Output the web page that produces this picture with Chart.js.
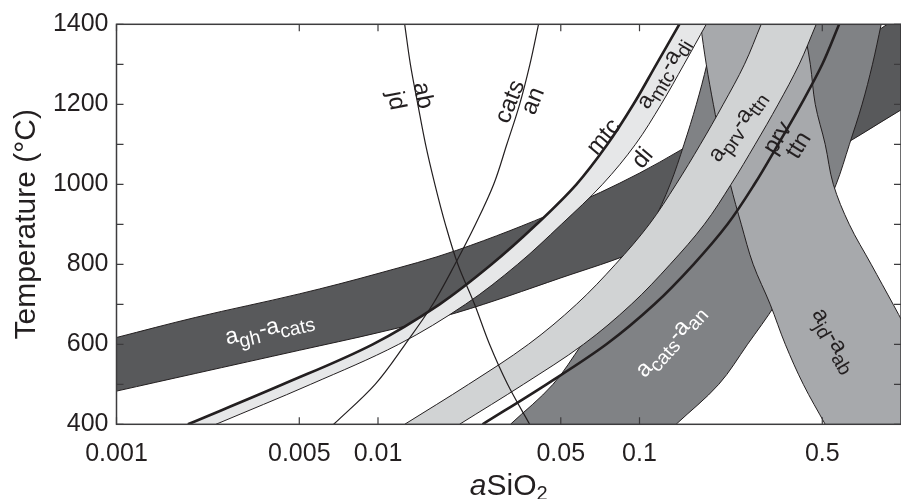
<!DOCTYPE html>
<html>
<head>
<meta charset="utf-8">
<script src="https://cdn.jsdelivr.net/npm/chart.js@4.4.1/dist/chart.umd.min.js"></script>
<style>
  html, body { margin: 0; padding: 0; background: #ffffff; overflow: hidden; }
  #wrap { width: 901px; height: 499px; }
</style>
</head>
<body>
<div id="wrap"><canvas id="c" width="901" height="499"></canvas></div>
<script>
// Temperature levels (°C) at which the reaction curves are given
const tempLevels = [400, 500, 600, 700, 800, 900, 1000, 1100, 1200, 1300, 1400];

// Pure end-member reaction lines (aSiO2 at each temperature level)
const jdAbLine   = [0.0380, 0.0313, 0.0267, 0.0234, 0.0202, 0.0181, 0.0165, 0.0152, 0.0142, 0.0133, 0.01265];
const catsAnLine = [0.00677, 0.00975, 0.0127, 0.0162, 0.0197, 0.0236, 0.0277, 0.0311, 0.0348, 0.0381, 0.0411];
const mtcDiLine  = [0.001875, 0.00433, 0.00955, 0.0172, 0.0272, 0.0404, 0.0574, 0.0754, 0.0948, 0.116, 0.142];
const prvTtnLine = [0.0251, 0.0441, 0.0747, 0.114, 0.161, 0.217, 0.275, 0.339, 0.415, 0.500, 0.580];

// Activity-ratio bands: low-aSiO2 edge and high-aSiO2 edge at each temperature level
const mtcDiBandHigh  = [0.0024, 0.00553, 0.0120, 0.0216, 0.0342, 0.0503, 0.0722, 0.0965, 0.121, 0.148, 0.180];
const prvTtnBandLow  = [0.01265, 0.0222, 0.0376, 0.0574, 0.0809, 0.109, 0.138, 0.171, 0.209, 0.252, 0.292];
const prvTtnBandHigh = [0.0205, 0.0360, 0.0611, 0.0931, 0.131, 0.177, 0.224, 0.277, 0.339, 0.408, 0.474];
const catsAnBandLow  = [0.0321, 0.0467, 0.0602, 0.0770, 0.0935, 0.112, 0.131, 0.148, 0.165, 0.181, 0.195];
const catsAnBandHigh = [0.138, 0.201, 0.259, 0.331, 0.402, 0.482, 0.565, 0.635, 0.710, 0.778, 0.840];
const jdAbBandLow    = [0.513, 0.423, 0.361, 0.316, 0.272, 0.245, 0.2225, 0.2055, 0.1916, 0.180, 0.171];
const jdAbBandHigh   = [1.74, 1.40, 1.13, 0.933, 0.769, 0.634, 0.551, 0.513, 0.470, 0.450, 0.423];

// agh-acats band: lower and upper temperature (°C) at fixed aSiO2
const ghLevels    = [0.001, 0.002, 0.005, 0.01, 0.02, 0.05, 0.1, 0.2, 0.5, 1];
const ghCatsLowT  = [483, 527, 585, 629, 679, 766, 836, 936, 1068, 1186];
const ghCatsHighT = [617, 667, 726, 777, 835, 936, 1028, 1141, 1293, 1423];

// Axis ticks
const xTickValues = [0.001, 0.005, 0.01, 0.05, 0.1, 0.5];
const xTickLabels = ['0.001', '0.005', '0.01', '0.05', '0.1', '0.5'];
const yTickLabels = [400, 600, 800, 1000, 1200, 1400];
const yTickMarks  = [400, 500, 600, 700, 800, 900, 1000, 1100, 1200, 1300, 1400];

const INK = '#231f20';
const FONT = '"Liberation Sans", Arial, Helvetica, sans-serif';

// ---- helpers that turn the value lists into point lists ----
const curveT = (aList) => aList.map((a, i) => ({ x: a, y: tempLevels[i] }));
const curveX = (tList) => tList.map((t, i) => ({ x: ghLevels[i], y: t }));

// Closed outline: first edge forward, second edge backward.
// The corner points are repeated so the spline keeps each edge's own shape.
function outline(edgeA, edgeB) {
  const b = edgeB.slice().reverse();
  const lastA = edgeA[edgeA.length - 1];
  return [...edgeA, lastA, b[0], ...b];
}

function band(points, color, order) {
  return {
    data: points,
    backgroundColor: color,
    borderColor: INK,
    borderWidth: 1,
    fill: 'shape',
    order: order
  };
}
function line(points, width, order) {
  return {
    data: points,
    borderColor: INK,
    borderWidth: width,
    fill: false,
    order: order
  };
}

const datasets = [
  band(outline(curveX(ghCatsLowT), curveX(ghCatsHighT)), '#58595b', 20),
  band(outline(curveT(catsAnBandLow), curveT(catsAnBandHigh)), '#808285', 19),
  band(outline(curveT(jdAbBandLow), curveT(jdAbBandHigh)), '#a7a9ac', 18),
  band(outline(curveT(prvTtnBandLow), curveT(prvTtnBandHigh)), '#d1d3d4', 17),
  band(outline(curveT(mtcDiLine), curveT(mtcDiBandHigh)), '#e6e7e8', 16),
  line(curveT(jdAbLine), 1.2, 5),
  line(curveT(catsAnLine), 1.2, 4),
  line(curveT(mtcDiLine), 2.6, 3),
  line(curveT(prvTtnLine), 2.6, 2)
];

// Text labels placed at (aSiO2, T); parts flagged with 1 are subscripts
const curveLabels = [
  { parts: [['a'], ['gh', 1], ['-'], ['a'], ['cats', 1]], a: 0.00386, T: 636, rot: -13, color: '#ffffff' },
  { parts: [['a'], ['cats', 1], ['-'], ['a'], ['an', 1]], a: 0.1324, T: 606, rot: -48, color: '#ffffff' },
  { parts: [['a'], ['jd', 1], ['-'], ['a'], ['ab', 1]], a: 0.5505, T: 608, rot: 60, color: INK },
  { parts: [['a'], ['prv', 1], ['-'], ['a'], ['ttn', 1]], a: 0.2386, T: 1143, rot: -55, color: INK },
  { parts: [['a'], ['mtc', 1], ['-'], ['a'], ['di', 1]], a: 0.1245, T: 1276, rot: -59, color: INK },
  { parts: [['prv']], a: 0.3333, T: 1118, rot: -58, color: INK },
  { parts: [['ttn']], a: 0.401, T: 1100, rot: -58, color: INK },
  { parts: [['mtc']], a: 0.0722, T: 1121, rot: -50, color: INK },
  { parts: [['di']], a: 0.1017, T: 1068, rot: -50, color: INK },
  { parts: [['cats']], a: 0.03157, T: 1208, rot: -68, color: INK },
  { parts: [['an']], a: 0.03866, T: 1210, rot: -68, color: INK },
  { parts: [['ab']], a: 0.01508, T: 1223, rot: 79, color: INK },
  { parts: [['jd']], a: 0.01189, T: 1210, rot: 79, color: INK }
];

function drawRich(ctx, parts, cx, cy, rot, color, size) {
  const subSize = size * 0.84;
  ctx.save();
  ctx.translate(cx, cy);
  ctx.rotate(rot * Math.PI / 180);
  ctx.fillStyle = color;
  ctx.textBaseline = 'alphabetic';
  ctx.textAlign = 'left';
  const widths = parts.map(p => {
    ctx.font = (p[1] ? subSize : size) + 'px ' + FONT;
    return ctx.measureText(p[0]).width;
  });
  const total = widths.reduce((s, w) => s + w, 0);
  let x = -total / 2;
  const hasSub = parts.some(p => p[1]);
  const base = hasSub ? size * 0.2 : size * 0.36;
  parts.forEach((p, i) => {
    ctx.font = (p[1] ? subSize : size) + 'px ' + FONT;
    ctx.fillText(p[0], x, base + (p[1] ? size * 0.26 : 0));
    x += widths[i];
  });
  ctx.restore();
}

const decor = {
  id: 'decor',
  afterDraw(chart) {
    const { ctx, chartArea: ca, scales: { x, y } } = chart;
    ctx.save();
    // frame
    ctx.strokeStyle = '#3d3c3e';
    ctx.lineWidth = 1.5;
    ctx.strokeRect(ca.left, ca.top, ca.right - ca.left, ca.bottom - ca.top);
    // inward tick marks on all four sides
    ctx.lineWidth = 1.2;
    ctx.beginPath();
    xTickValues.forEach(v => {
      const px = x.getPixelForValue(v);
      ctx.moveTo(px, ca.bottom); ctx.lineTo(px, ca.bottom - 7);
      ctx.moveTo(px, ca.top); ctx.lineTo(px, ca.top + 7);
    });
    yTickMarks.forEach(v => {
      const py = y.getPixelForValue(v);
      ctx.moveTo(ca.left, py); ctx.lineTo(ca.left + 7, py);
      ctx.moveTo(ca.right, py); ctx.lineTo(ca.right - 7, py);
    });
    ctx.stroke();

    // curve and band labels
    ctx.save();
    ctx.beginPath();
    ctx.rect(ca.left, ca.top, ca.right - ca.left, ca.bottom - ca.top);
    ctx.clip();
    curveLabels.forEach(l => {
      const size = l.parts.length > 1 ? 23 : 24;
      drawRich(ctx, l.parts, x.getPixelForValue(l.a), y.getPixelForValue(l.T), l.rot, l.color, size);
    });
    ctx.restore();

    // axis titles
    ctx.fillStyle = INK;
    ctx.textBaseline = 'alphabetic';
    ctx.save();
    ctx.translate(35, (ca.top + ca.bottom) / 2);
    ctx.rotate(-Math.PI / 2);
    ctx.textAlign = 'center';
    ctx.font = '30px ' + FONT;
    ctx.fillText('Temperature (°C)', 0, 0);
    ctx.restore();

    const xParts = [['a', 'italic 30px '], ['SiO', '30px '], ['2', '20px ']];
    const w = xParts.map(p => { ctx.font = p[1] + FONT; return ctx.measureText(p[0]).width; });
    let px = (ca.left + ca.right) / 2 - w.reduce((s, v) => s + v, 0) / 2;
    xParts.forEach((p, i) => {
      ctx.font = p[1] + FONT;
      ctx.textAlign = 'left';
      ctx.fillText(p[0], px, i === 2 ? 500 : 495);
      px += w[i];
    });
    ctx.restore();
  }
};

new Chart(document.getElementById('c'), {
  type: 'line',
  data: { datasets },
  plugins: [decor],
  options: {
    responsive: false,
    animation: false,
    devicePixelRatio: 1,
    layout: { padding: { top: 24.3, right: 0, left: 0, bottom: 0 } },
    elements: {
      point: { radius: 0, hoverRadius: 0 },
      line: { tension: 0.35, capBezierPoints: false }
    },
    plugins: {
      legend: { display: false },
      tooltip: { enabled: false },
      filler: { drawTime: 'beforeDatasetDraw' }
    },
    events: [],
    scales: {
      x: {
        type: 'logarithmic',
        position: 'bottom',
        min: 0.001,
        max: 1,
        grid: { display: false, drawTicks: false },
        border: { display: false },
        afterBuildTicks: (s) => { s.ticks = xTickValues.map(v => ({ value: v })); },
        afterFit: (s) => { s.height = 74.7; },
        ticks: {
          autoSkip: false,
          maxRotation: 0,
          padding: 15,
          color: INK,
          font: { family: FONT, size: 25 },
          callback: (v) => { const i = xTickValues.indexOf(v); return i >= 0 ? xTickLabels[i] : ''; }
        }
      },
      y: {
        type: 'linear',
        min: 400,
        max: 1400,
        grid: { display: false, drawTicks: false },
        border: { display: false },
        afterBuildTicks: (s) => { s.ticks = yTickLabels.map(v => ({ value: v })); },
        afterFit: (s) => { s.width = 116.5; },
        ticks: {
          padding: 8,
          color: INK,
          font: { family: FONT, size: 25 },
          callback: (v) => String(v)
        }
      }
    }
  }
});
</script>
</body>
</html>
